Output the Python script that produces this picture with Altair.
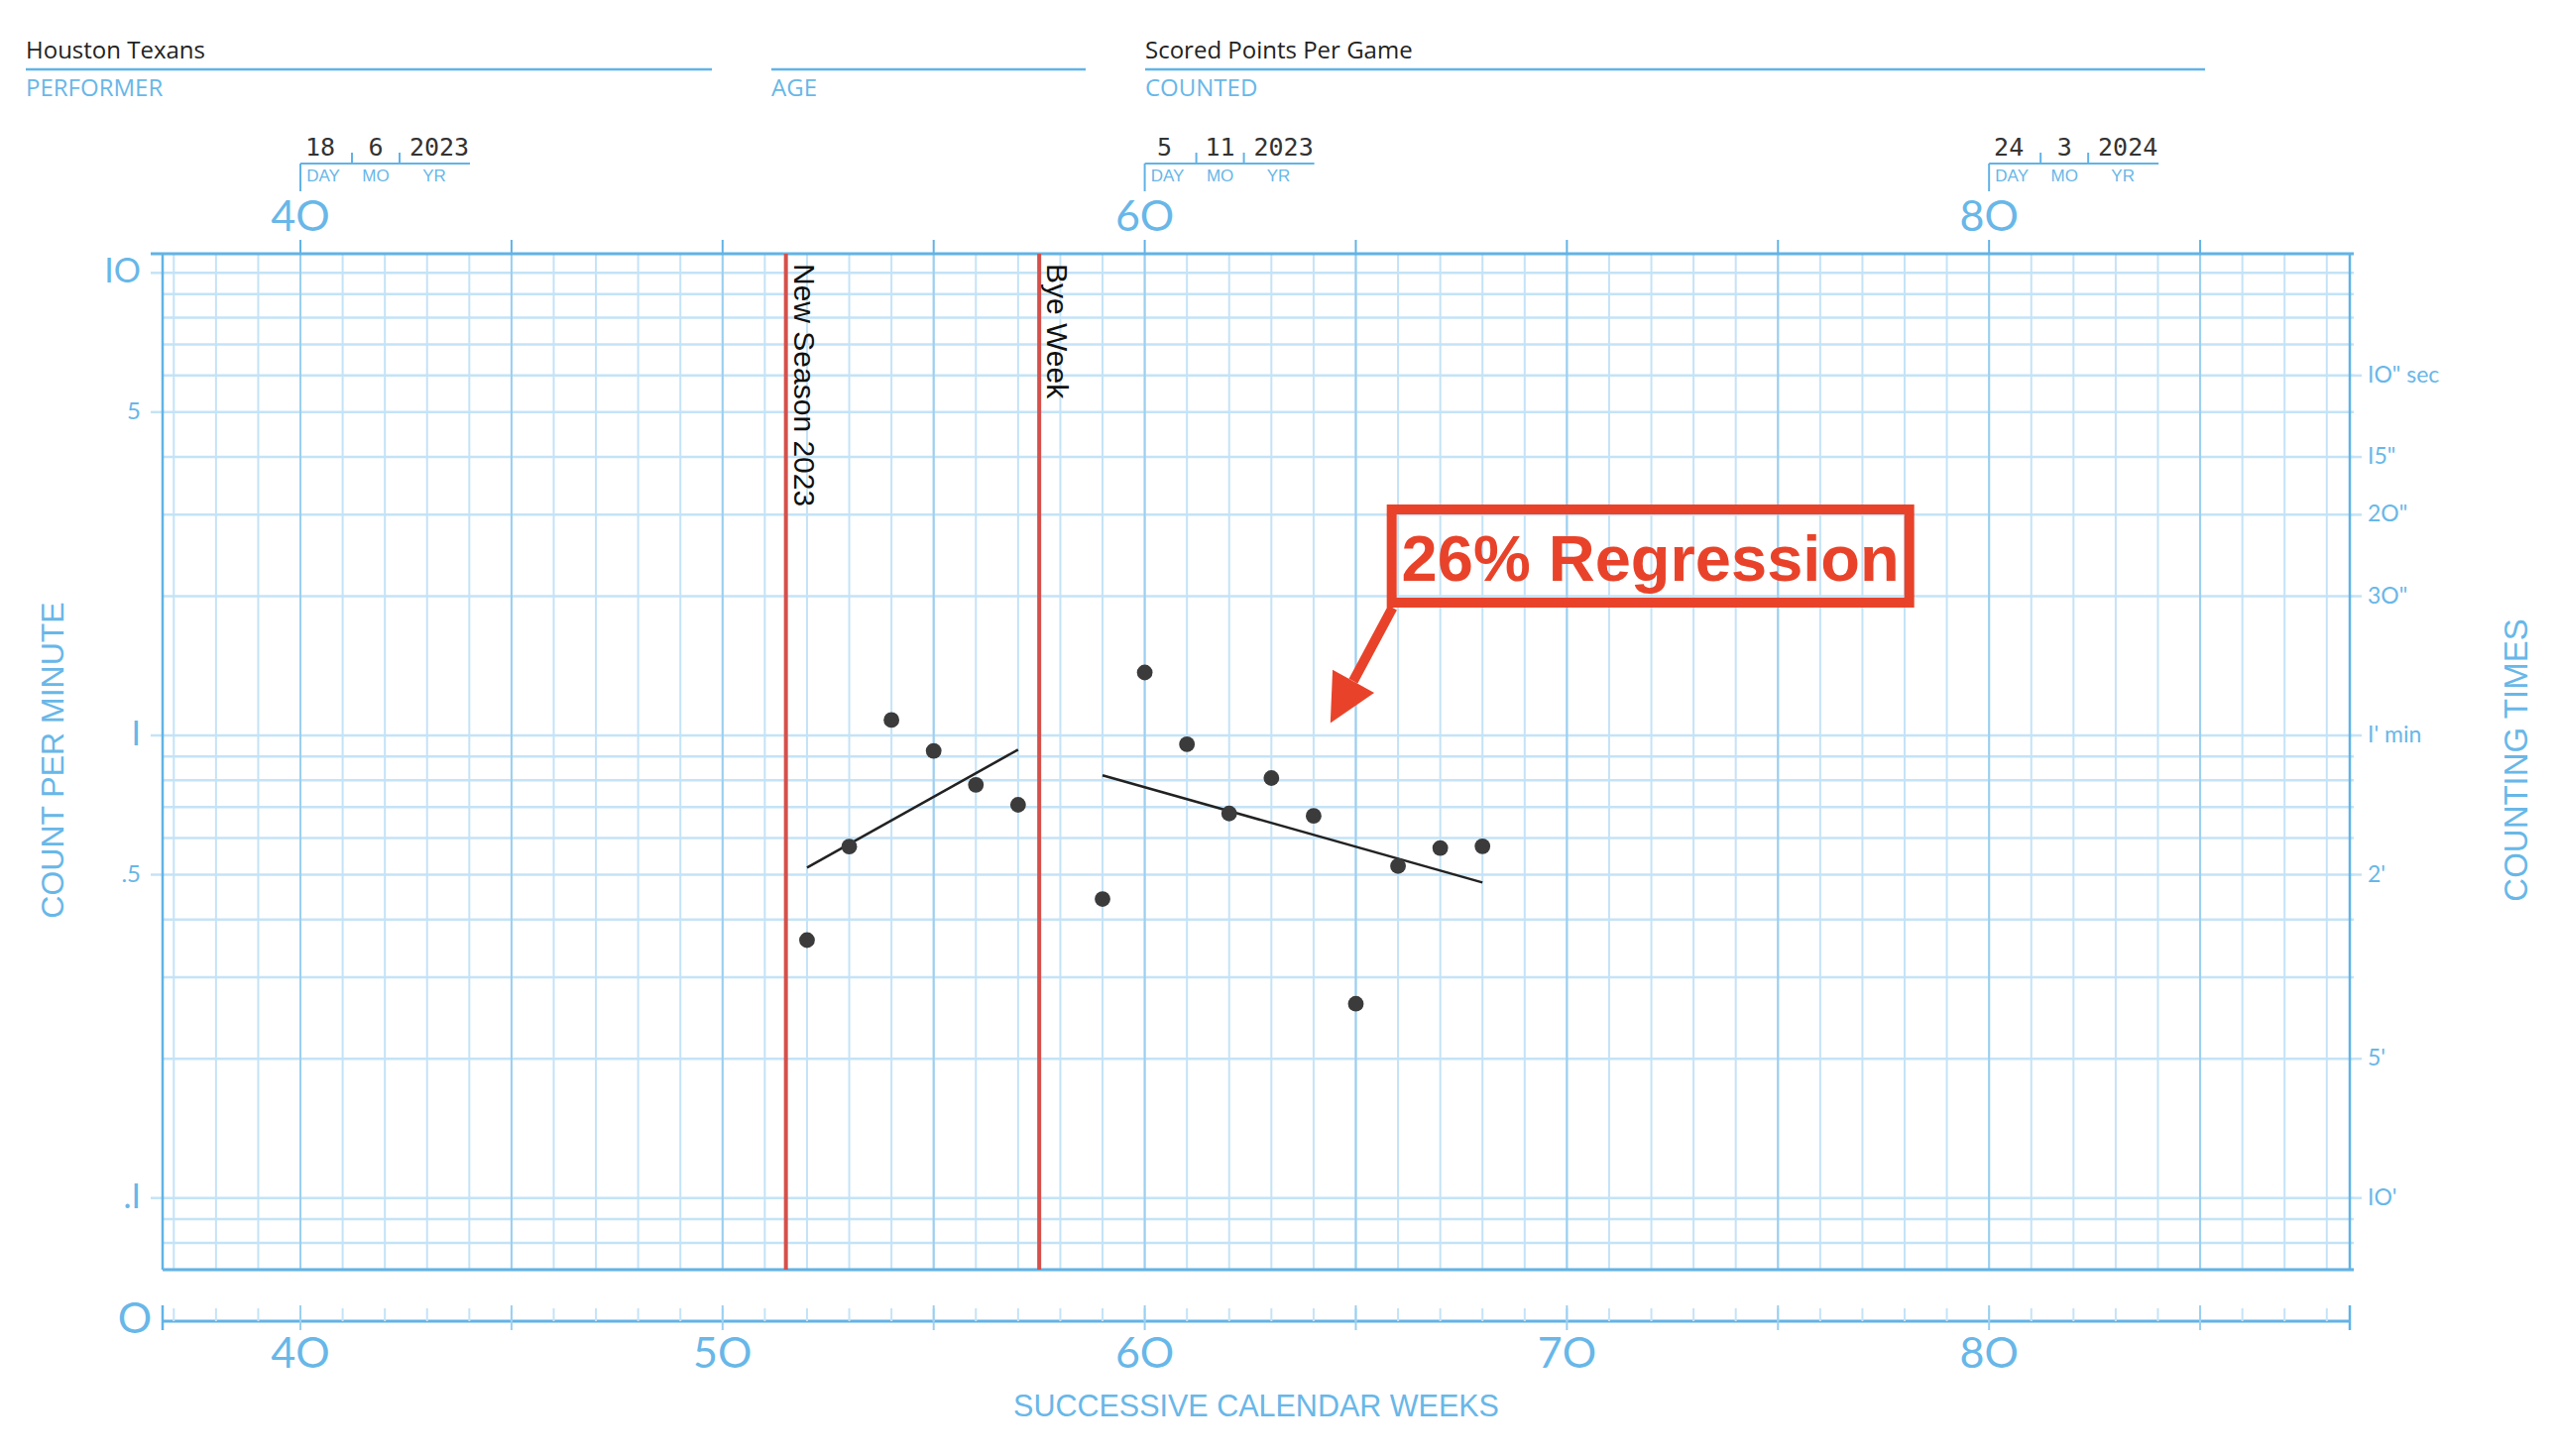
import altair as alt
import pandas as pd

# ---------------- data ----------------
weeks = [52, 53, 54, 55, 56, 57, 59, 60, 61, 62, 63, 64, 65, 66, 67, 68]
counts = [0.361, 0.575, 1.08, 0.926, 0.782, 0.708, 0.443, 1.368, 0.957,
          0.678, 0.809, 0.670, 0.263, 0.522, 0.571, 0.576]

trend_segments = ["before bye", "before bye", "after bye", "after bye"]
trend_weeks = [52, 57, 59, 68]
trend_values = [0.518, 0.932, 0.820, 0.481]

phase_weeks = [51.5, 57.5]
phase_labels = ["New Season 2023", "Bye Week"]

date_weeks = [40, 60, 80]
date_days = ["18", "5", "24"]
date_months = ["6", "11", "3"]
date_years = ["2023", "2023", "2024"]

top_label_weeks = [40, 60, 80]
top_labels = ["4O", "6O", "8O"]
bottom_label_weeks = [40, 50, 60, 70, 80]
bottom_labels = ["4O", "5O", "6O", "7O", "8O"]

left_values = [10, 5, 1, 0.5, 0.1]
left_labels = ["IO", "5", "I", ".5", ".I"]
right_values = [6, 4, 3, 2, 1, 0.5, 0.2, 0.1]
right_labels = ['IO" sec', 'I5"', '2O"', '3O"', "I' min", "2'", "5'", "IO'"]

header_values = ["Houston Texans", "", "Scored Points Per Game"]
header_fields = ["PERFORMER", "AGE", "COUNTED"]

annotation_text = "26% Regression"
box_weeks = [65.85, 78.11]
box_values = [3.08, 1.937]
label_week, label_value = 71.98, 2.16
arrow_weeks = [65.87, 64.94]
arrow_values = [1.889, 1.311]
head_week, head_value = 64.67, 1.18

week_grid = list(range(37, 89))
major_weeks = [w for w in week_grid if w % 5 == 0]
value_grid = sorted({round(m * 10.0 ** e, 4) for e in (-2, -1, 0)
                     for m in range(1, 10) if m * 10.0 ** e >= 0.07} | {10.0})

# ---------------- layout / style ----------------
W, H = 2206, 1025
xs = alt.Scale(domain=[36.735, 88.545], nice=False, zero=False)
ys = alt.Scale(type="log", domain=[0.07, 11], nice=False)

BLUE = "#62b3e6"
GRID = "#c4e3f7"
GRID5 = "#9ccff0"
TBLUE = "#68b7e8"
REDLINE = "#d6504b"
RED = "#e8432a"
DOT = "#3b3b3b"
GEO = "Lato"
SANS = "Liberation Sans"
OPEN = "Open Sans"
MONO = "DejaVu Sans Mono"


def X(f="week"):
    return alt.X(f"{f}:Q", scale=xs, axis=None)


def Y(f="v"):
    return alt.Y(f"{f}:Q", scale=ys, axis=None)


one = pd.DataFrame({"a": [0]})


def prule(color, width, x, y, x2=None, y2=None):
    enc = dict(x=alt.value(x), y=alt.value(y))
    if x2 is not None:
        enc["x2"] = alt.value(x2)
    if y2 is not None:
        enc["y2"] = alt.value(y2)
    return alt.Chart(one).mark_rule(color=color, strokeWidth=width).encode(**enc)


def ptext(s, x, y, **kw):
    return alt.Chart(pd.DataFrame({"t": [s]})).mark_text(**kw).encode(
        x=alt.value(x), y=alt.value(y), text="t:N")


layers = []

# horizontal grid
vg = pd.DataFrame({"v": value_grid})
layers.append(alt.Chart(vg).mark_rule(color=GRID, strokeWidth=2.5).encode(
    y=Y(), x=alt.value(0), x2=alt.value(W + 4)))
lv = pd.DataFrame({"v": left_values, "label": left_labels})
rv = pd.DataFrame({"v": right_values, "label": right_labels})
layers.append(alt.Chart(lv).mark_rule(color=GRID, strokeWidth=2.5).encode(
    y=Y(), x=alt.value(-12), x2=alt.value(0)))
layers.append(alt.Chart(rv).mark_rule(color=GRID, strokeWidth=2.5).encode(
    y=Y(), x=alt.value(W), x2=alt.value(W + 12)))

# vertical grid
wg = pd.DataFrame({"week": week_grid})
mw = pd.DataFrame({"week": major_weeks})
layers.append(alt.Chart(wg).mark_rule(color=GRID, strokeWidth=2).encode(
    x=X(), y=alt.value(0), y2=alt.value(H)))
layers.append(alt.Chart(mw).mark_rule(color=GRID5, strokeWidth=2).encode(
    x=X(), y=alt.value(0), y2=alt.value(H)))
layers.append(alt.Chart(mw).mark_rule(color=BLUE, strokeWidth=2).encode(
    x=X(), y=alt.value(-14), y2=alt.value(0)))

# borders
layers.append(prule(BLUE, 3, -12, 0, x2=W + 4))
layers.append(prule(BLUE, 3, 0, H, x2=W + 4))
layers.append(prule(BLUE, 2.5, 0, 0, y2=H))
layers.append(prule(BLUE, 2.5, W, 0, y2=H))

# phase change lines
ph = pd.DataFrame({"week": phase_weeks, "label": phase_labels})
layers.append(alt.Chart(ph).mark_rule(color=REDLINE, strokeWidth=4).encode(
    x=X(), y=alt.value(0), y2=alt.value(H)))
layers.append(alt.Chart(ph).mark_text(angle=90, align="left", baseline="alphabetic",
                                      xOffset=8, font=SANS, fontSize=30, color="#111").encode(
    x=X(), y=alt.value(10), text="label:N"))

# celeration lines
tr = pd.DataFrame({"seg": trend_segments, "week": trend_weeks, "v": trend_values})
layers.append(alt.Chart(tr).mark_line(color="#222", strokeWidth=2.5).encode(
    x=X(), y=Y(), detail="seg:N"))

# data points
pts = pd.DataFrame({"week": weeks, "v": counts})
layers.append(alt.Chart(pts).mark_circle(size=250, color=DOT, opacity=1).encode(x=X(), y=Y()))

# annotation
box = pd.DataFrame({"w1": [box_weeks[0]], "w2": [box_weeks[1]],
                    "v1": [box_values[0]], "v2": [box_values[1]]})
layers.append(alt.Chart(box).mark_rect(fillOpacity=0, fill="white", stroke=RED, strokeWidth=10).encode(
    x=X("w1"), x2=alt.X2("w2:Q"), y=Y("v1"), y2=alt.Y2("v2:Q")))
arr = pd.DataFrame({"w1": [arrow_weeks[0]], "w2": [arrow_weeks[1]],
                    "v1": [arrow_values[0]], "v2": [arrow_values[1]]})
layers.append(alt.Chart(arr).mark_rule(color=RED, strokeWidth=10).encode(
    x=X("w1"), x2=alt.X2("w2:Q"), y=Y("v1"), y2=alt.Y2("v2:Q")))
head = pd.DataFrame({"week": [head_week], "v": [head_value]})
layers.append(alt.Chart(head).mark_point(shape="M0,-1L1,1L-1,1Z", size=2304, angle=209,
                                         filled=True, color=RED, opacity=1, strokeWidth=0).encode(
    x=X(), y=Y()))
lab = pd.DataFrame({"week": [label_week], "v": [label_value], "t": [annotation_text]})
layers.append(alt.Chart(lab).mark_text(font=SANS, fontWeight="bold", fontSize=65, color=RED,
                                       align="center", baseline="alphabetic").encode(
    x=X(), y=Y(), text="t:N"))

# left labels
layers.append(alt.Chart(lv).mark_text(align="right", baseline="middle", font=GEO, color=TBLUE).encode(
    y=Y(), x=alt.value(-22), text="label:N",
    size=alt.condition("datum.v == 5 || datum.v == 0.5", alt.value(24), alt.value(34))))
# right labels
layers.append(alt.Chart(rv).mark_text(align="left", baseline="middle", font=GEO, fontSize=23,
                                      color=TBLUE).encode(
    y=Y(), x=alt.value(W + 18), text="label:N"))

# top labels
tl = pd.DataFrame({"week": top_label_weeks, "label": top_labels})
layers.append(alt.Chart(tl).mark_text(align="center", baseline="middle", font=GEO, fontSize=43,
                                      color=TBLUE).encode(
    x=X(), y=alt.value(-36), text="label:N"))

# date blocks
dd = pd.DataFrame({"week": date_weeks, "day": date_days, "mo": date_months, "yr": date_years})
layers.append(alt.Chart(dd).mark_rule(color=BLUE, strokeWidth=2).encode(
    x=X(), y=alt.value(-91), y2=alt.value(-63)))
layers.append(alt.Chart(dd).mark_rule(color=BLUE, strokeWidth=2, x2Offset=171).encode(
    x=X(), x2=alt.X2("week:Q"), y=alt.value(-91)))
for off in (52, 100):
    layers.append(alt.Chart(dd).mark_rule(color=BLUE, strokeWidth=2, xOffset=off).encode(
        x=X(), y=alt.value(-102), y2=alt.value(-91)))
for fld, off in (("day", 20), ("mo", 76), ("yr", 140)):
    layers.append(alt.Chart(dd).mark_text(align="center", baseline="alphabetic", font=MONO,
                                          fontSize=25, color="#333", xOffset=off).encode(
        x=X(), y=alt.value(-99), text=f"{fld}:N"))
for s, off in (("DAY", 23), ("MO", 76), ("YR", 135)):
    layers.append(alt.Chart(dd).mark_text(text=s, align="center", baseline="alphabetic", font=SANS,
                                          fontSize=17, color=TBLUE, xOffset=off).encode(
        x=X(), y=alt.value(-73)))

# header
hx = [-138, 614, 991]
hx2 = [554, 931, 2060]
for val, fld, x0, x1 in zip(header_values, header_fields, hx, hx2):
    if val:
        layers.append(ptext(val, x0, -197, align="left", baseline="alphabetic", font=OPEN,
                            fontSize=24, color="#222"))
    layers.append(prule(BLUE, 2.5, x0, -186, x2=x1))
    layers.append(ptext(fld, x0, -159, align="left", baseline="alphabetic", font=OPEN,
                        fontSize=24, color=TBLUE))

# bottom week strip
layers.append(prule(BLUE, 3, 0, 1077, x2=W))
layers.append(alt.Chart(wg).mark_rule(color=GRID, strokeWidth=2).encode(
    x=X(), y=alt.value(1064), y2=alt.value(1077)))
layers.append(alt.Chart(mw).mark_rule(color=GRID5, strokeWidth=2).encode(
    x=X(), y=alt.value(1061), y2=alt.value(1086)))
layers.append(prule(BLUE, 2.5, 0, 1061, y2=1086))
layers.append(prule(BLUE, 2.5, W, 1061, y2=1086))
bl = pd.DataFrame({"week": bottom_label_weeks, "label": bottom_labels})
layers.append(alt.Chart(bl).mark_text(align="center", baseline="middle", font=GEO, fontSize=43,
                                      color=TBLUE).encode(
    x=X(), y=alt.value(1111), text="label:N"))
layers.append(ptext("O", -28, 1076, align="center", baseline="middle", font=GEO, fontSize=43,
                    color=TBLUE))

# axis titles
layers.append(ptext("COUNT PER MINUTE", -110, 511, angle=270, align="center", baseline="middle",
                    font=SANS, fontSize=32, color=TBLUE))
layers.append(ptext("COUNTING TIMES", 2375, 511, angle=270, align="center", baseline="middle",
                    font=SANS, fontSize=33, color=TBLUE))
layers.append(ptext("SUCCESSIVE CALENDAR WEEKS", W / 2, 1164, align="center", baseline="middle",
                    font=SANS, fontSize=30.5, color=TBLUE))

chart = alt.layer(*layers).properties(
    width=W, height=H,
    autosize=alt.AutoSizeParams(type="none"),
    padding={"left": 156, "top": 248, "right": 202, "bottom": 180},
    background="white",
).configure_view(stroke=None)

chart.save("out.html", embed_options={"renderer": "svg", "actions": False})
